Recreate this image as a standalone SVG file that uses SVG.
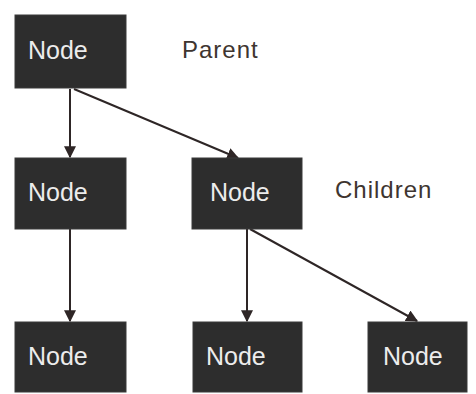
<svg xmlns="http://www.w3.org/2000/svg" width="476" height="394" viewBox="0 0 476 394">
<defs>
<style>
.box{fill:#2d2d2d;stroke:#3a3a3a;stroke-width:1}
.nt{fill:#ececec;font-family:"Liberation Sans",Arial,sans-serif;font-size:25px}
.lbl{fill:#3e3530;font-family:"Liberation Sans",Arial,sans-serif;font-size:24px;letter-spacing:1px}
.edge{stroke:#2e2626;stroke-width:2;fill:none;marker-end:url(#ah)}
</style>
<marker id="ah" viewBox="0 0 10 10" refX="9" refY="5" markerWidth="6" markerHeight="6" markerUnits="strokeWidth" orient="auto">
<path d="M0,0 L10,5 L0,10 z" fill="#2e2626"/>
</marker>
</defs>
<rect width="476" height="394" fill="#ffffff"/>
<g id="connectors">
<line class="edge" x1="70" y1="89" x2="70" y2="157"/>
<line class="edge" x1="74" y1="89" x2="238" y2="158"/>
<line class="edge" x1="70" y1="229" x2="70" y2="321"/>
<line class="edge" x1="247" y1="229" x2="247" y2="321"/>
<line class="edge" x1="250" y1="229" x2="417" y2="321"/>
</g>
<g id="node-parent">
<rect class="box" x="15" y="15" width="111" height="73"/>
<text class="nt" x="28" y="59">Node</text>
</g>
<g id="node-mid-left">
<rect class="box" x="15" y="158" width="111" height="71"/>
<text class="nt" x="28" y="201">Node</text>
</g>
<g id="node-mid">
<rect class="box" x="192" y="158" width="110" height="71"/>
<text class="nt" x="210" y="201">Node</text>
</g>
<g id="node-bottom-left">
<rect class="box" x="15" y="322" width="111" height="70"/>
<text class="nt" x="28" y="365">Node</text>
</g>
<g id="node-bottom-mid">
<rect class="box" x="193" y="322" width="109" height="70"/>
<text class="nt" x="206" y="365">Node</text>
</g>
<g id="node-bottom-right">
<rect class="box" x="368" y="322" width="99" height="70"/>
<text class="nt" x="383" y="365">Node</text>
</g>
<g id="labels">
<text class="lbl" x="182" y="58">Parent</text>
<text class="lbl" x="335" y="198">Children</text>
</g>
</svg>
